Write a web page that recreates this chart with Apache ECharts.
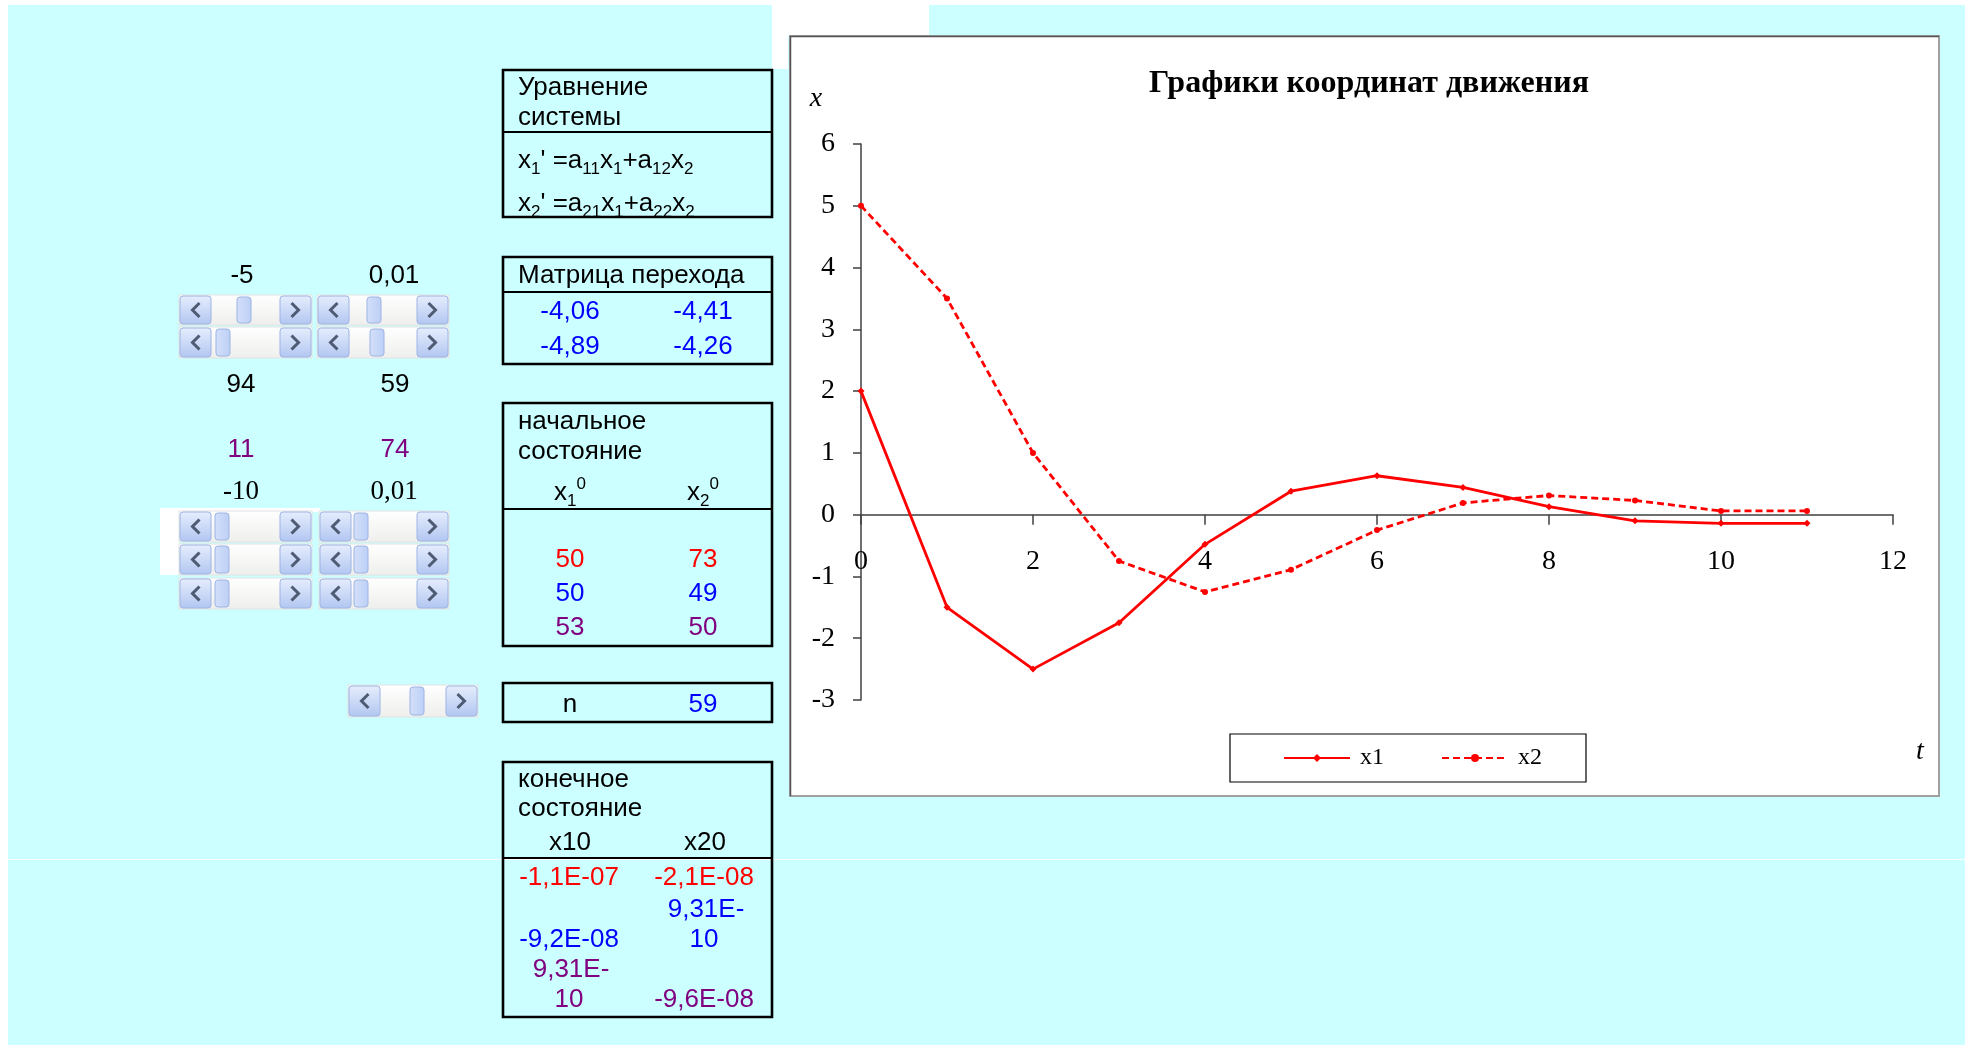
<!DOCTYPE html>
<html>
<head>
<meta charset="utf-8">
<title>Графики координат движения</title>
<script src="https://cdn.jsdelivr.net/npm/echarts@6/dist/echarts.min.js"></script>
<style>
  html, body { margin: 0; padding: 0; background: #ffffff; }
  #main { width: 1968px; height: 1049px; }
</style>
</head>
<body>
<div id="main"></div>
<script>
// ---- chart data: time steps and the two coordinates ----
const timeSteps = [0, 1, 2, 3, 4, 5, 6, 7, 8, 9, 10, 11];
const x1Values = [2, -1.5, -2.5, -1.75, -0.48, 0.38, 0.63, 0.44, 0.13, -0.1, -0.14, -0.14];
const x2Values = [5, 3.5, 1, -0.75, -1.25, -0.89, -0.25, 0.19, 0.31, 0.23, 0.06, 0.06];
const seriesNames = ['x1', 'x2'];

// ---- axis ranges ----
const tAxisRange = { min: 0, max: 12, interval: 2 };
const xAxisRange = { min: -3, max: 6, interval: 1 };

// ---- side panel values ----
const sliderLabelsTop = ['-5', '0,01'];
const sliderLabelsMid = ['94', '59'];
const sliderLabelsPurple = ['11', '74'];
const sliderLabelsLow = ['-10', '0,01'];
const transitionMatrix = [['-4,06', '-4,41'], ['-4,89', '-4,26']];
const initialStates = [['50', '73'], ['50', '49'], ['53', '50']];
const stepCount = '59';
const finalStates = [['-1,1E-07', '-2,1E-08'], ['-9,2E-08', '9,31E-10'], ['9,31E-10', '-9,6E-08']];
const stateColors = ['#ff0000', '#0000ff', '#800080'];

const SANS = '"Liberation Sans", Arial, sans-serif';
const SERIF = '"Liberation Serif", "Times New Roman", serif';
const CYAN = '#ccffff';

const G = [];

function rect(x, y, w, h, style, z, r) {
  G.push({ type: 'rect', silent: true, z: z, shape: { x: x, y: y, width: w, height: h, r: r || 0 }, style: style });
}
function seg(x1, y1, x2, y2, stroke, lw, z) {
  G.push({ type: 'line', silent: true, z: z, shape: { x1: x1, y1: y1, x2: x2, y2: y2 }, style: { stroke: stroke, lineWidth: lw } });
}
function txt(s, x, y, o) {
  o = o || {};
  const align = o.align || 'center';
  G.push({
    type: 'text', silent: true, z: o.z || 10, x: x, y: y,
    style: {
      text: s, fill: o.color || '#000', fontSize: o.size || 26, fontFamily: o.family || SANS,
      fontStyle: o.fontStyle || 'normal', fontWeight: o.weight || 'normal',
      align: align, textAlign: align, verticalAlign: 'middle', textVerticalAlign: 'middle',
      rich: o.rich
    }
  });
}

// text width helper used for cell wrapping
const measureCtx = document.createElement('canvas').getContext('2d');
measureCtx.font = '26px "Liberation Sans", Arial, sans-serif';
const CELL_TEXT_MAX = 102;

// ---- page background (spreadsheet fill) ----
rect(8, 5, 1957, 1040, { fill: CYAN }, -100);
rect(772, 0, 157, 36, { fill: '#ffffff' }, -99);
rect(772, 36, 16, 33, { fill: '#ffffff' }, -99);
seg(8, 859.5, 1965, 859.5, '#ffffff', 1, -98);
rect(160, 508, 160, 4, { fill: '#ffffff' }, -97);
rect(160, 508, 19, 67, { fill: '#ffffff' }, -97);

// ---- chart frame ----
rect(790, 36, 1149, 760, { fill: '#ffffff', stroke: '#a0a0a0', lineWidth: 2 }, -50);
seg(790, 36.5, 1939, 36.5, '#555555', 1.5, -49);
seg(790.5, 36, 790.5, 796, '#555555', 1.5, -49);

// ---- tables ----
const TX = 503, TW = 269, COL1 = 570, COL2 = 703;
function table(y, h, divider) {
  rect(TX, y, TW, h, { fill: 'none', stroke: '#000', lineWidth: 2.6 }, 5);
  if (divider) seg(TX, divider, TX + TW, divider, '#000', 2, 5);
}
const eqRich = {
  n: { fontSize: 26, fontFamily: SANS, lineHeight: 34, verticalAlign: 'middle' },
  s: { fontSize: 17, fontFamily: SANS, lineHeight: 20, verticalAlign: 'bottom' },
  p: { fontSize: 17, fontFamily: SANS, lineHeight: 14, verticalAlign: 'top' }
};

table(70, 147, 132);
txt('Уравнение', 518, 88, { align: 'left' });
txt('системы', 518, 118, { align: 'left' });
txt("{n|x}{s|1}{n|' =a}{s|11}{n|x}{s|1}{n|+a}{s|12}{n|x}{s|2}", 518, 161, { align: 'left', rich: eqRich });
txt("{n|x}{s|2}{n|' =a}{s|21}{n|x}{s|1}{n|+a}{s|22}{n|x}{s|2}", 518, 204, { align: 'left', rich: eqRich });

table(257, 107, 292);
txt('Матрица перехода', 518, 276, { align: 'left' });
transitionMatrix.forEach(function (row, i) {
  txt(row[0], COL1, 312 + i * 35, { color: '#0000ff' });
  txt(row[1], COL2, 312 + i * 35, { color: '#0000ff' });
});

table(403, 243, 509);
txt('начальное', 518, 422, { align: 'left' });
txt('состояние', 518, 452, { align: 'left' });
txt('{n|x}{s|1}{p|0}', COL1, 493, { rich: eqRich });
txt('{n|x}{s|2}{p|0}', COL2, 493, { rich: eqRich });
initialStates.forEach(function (row, i) {
  txt(row[0], COL1, 560 + i * 34, { color: stateColors[i] });
  txt(row[1], COL2, 560 + i * 34, { color: stateColors[i] });
});

table(683, 39, null);
txt('n', COL1, 705);
txt(stepCount, COL2, 705, { color: '#0000ff' });

table(762, 255, 858);
txt('конечное', 518, 780, { align: 'left' });
txt('состояние', 518, 809, { align: 'left' });
txt('x10', COL1, 843);
txt('x20', COL2 + 2, 843);
const finalRowBottoms = [878, 940, 1000];
finalStates.forEach(function (row, i) {
  row.forEach(function (val, j) {
    const cx = j === 0 ? COL1 - 1 : COL2 + 1;
    const yb = finalRowBottoms[i];
    if (measureCtx.measureText(val).width > CELL_TEXT_MAX) {
      // too wide for the cell: wrap after the exponent sign
      const cut = val.indexOf('E-') + 2;
      txt(val.slice(0, cut), cx + 2, yb - 30, { color: stateColors[i] });
      txt(val.slice(cut), cx, yb, { color: stateColors[i] });
    } else {
      txt(val, cx, yb, { color: stateColors[i] });
    }
  });
});

// ---- scroll bar controls ----
const btnGrad = { type: 'linear', x: 0, y: 0, x2: 0, y2: 1, colorStops: [{ offset: 0, color: '#e6eefd' }, { offset: 1, color: '#b2c6f1' }] };
const trackGrad = { type: 'linear', x: 0, y: 0, x2: 0, y2: 1, colorStops: [{ offset: 0, color: '#ffffff' }, { offset: 1, color: '#eeeeec' }] };
const thumbGrad = { type: 'linear', x: 0, y: 0, x2: 1, y2: 0, colorStops: [{ offset: 0, color: '#d4e0fa' }, { offset: 1, color: '#bccff5' }] };
function chevron(cx, cy, dir) {
  const d = dir === 'left' ? 1 : -1;
  G.push({ type: 'polyline', silent: true, z: 8, shape: { points: [[cx + 4 * d, cy - 7], [cx - 3 * d, cy], [cx + 4 * d, cy + 7]] }, style: { stroke: '#4f5b73', lineWidth: 3, fill: 'none' } });
}
function scrollbar(x, y, w, h, thumbX) {
  const bw = 31;
  rect(x, y, w, h, { fill: trackGrad, stroke: '#e2e2e2', lineWidth: 1 }, 6);
  rect(x + 1, y + 1, bw, h - 2, { fill: btnGrad, stroke: '#9db4e4', lineWidth: 1 }, 7, 3);
  rect(x + w - bw - 1, y + 1, bw, h - 2, { fill: btnGrad, stroke: '#9db4e4', lineWidth: 1 }, 7, 3);
  chevron(x + 1 + bw / 2, y + h / 2, 'left');
  chevron(x + w - bw - 1 + bw / 2, y + h / 2, 'right');
  rect(thumbX, y + 2, 14, h - 4, { fill: thumbGrad, stroke: '#9db4e4', lineWidth: 1 }, 7, 3);
}

txt(sliderLabelsTop[0], 242, 276);
txt(sliderLabelsTop[1], 394, 276);
scrollbar(179, 295, 133, 30, 237);
scrollbar(317, 295, 132, 30, 367);
scrollbar(179, 327, 133, 31, 216);
scrollbar(317, 327, 132, 31, 370);
txt(sliderLabelsMid[0], 241, 385);
txt(sliderLabelsMid[1], 395, 385);
txt(sliderLabelsPurple[0], 241, 450, { color: '#800080' });
txt(sliderLabelsPurple[1], 395, 450, { color: '#800080' });
txt(sliderLabelsLow[0], 241, 492, { family: SERIF, size: 27 });
txt(sliderLabelsLow[1], 394, 492, { family: SERIF, size: 27 });
[511, 544, 578].forEach(function (y) {
  scrollbar(179, y, 133, 31, 215);
  scrollbar(319, y, 130, 31, 354);
});
scrollbar(348, 685, 130, 32, 410);

// ---- axis letters ----
txt('x', 816, 99, { family: SERIF, fontStyle: 'italic', size: 28 });
txt('t', 1920, 752, { family: SERIF, fontStyle: 'italic', size: 28 });

const GRID = { left: 861, top: 144, width: 1032, height: 556 };
// the t-axis sits on x = 0; its labels hang just under that line
const zeroOffset = GRID.height * xAxisRange.max / (xAxisRange.max - xAxisRange.min);
const tLabelGap = 33;

const axisColor = '#404040';
const chart = echarts.init(document.getElementById('main'), null, { renderer: 'canvas' });
chart.setOption({
  animation: false,
  backgroundColor: '#ffffff',
  title: {
    text: 'Графики координат движения',
    left: 1369, top: 68, textAlign: 'center', padding: 0,
    textStyle: { fontFamily: SERIF, fontWeight: 'bold', fontSize: 32, color: '#000' }
  },
  grid: { left: GRID.left, top: GRID.top, width: GRID.width, height: GRID.height, containLabel: false, outerBoundsMode: 'none' },
  legend: {
    data: seriesNames,
    left: 1230, top: 734, orient: 'horizontal',
    backgroundColor: '#ffffff', borderColor: '#000', borderWidth: 1.2, borderRadius: 0,
    padding: [12, 44, 12, 53],
    itemWidth: 66, itemHeight: 10, itemGap: 57,
    textStyle: { fontFamily: SERIF, fontSize: 24, color: '#000', padding: [0, 0, 0, 5] }
  },
  xAxis: {
    type: 'value', min: tAxisRange.min, max: tAxisRange.max, interval: tAxisRange.interval,
    axisLine: { show: true, onZero: true, lineStyle: { color: axisColor, width: 1.5 } },
    axisTick: { show: true, inside: false, length: 10, lineStyle: { color: axisColor, width: 1.5 } },
    axisLabel: { margin: tLabelGap - (GRID.height - zeroOffset), fontFamily: SERIF, fontSize: 28, color: '#000' },
    splitLine: { show: false }
  },
  yAxis: {
    type: 'value', min: xAxisRange.min, max: xAxisRange.max, interval: xAxisRange.interval,
    axisLine: { show: true, onZero: false, lineStyle: { color: axisColor, width: 1.5 } },
    axisTick: { show: true, inside: false, length: 8, lineStyle: { color: axisColor, width: 1.5 } },
    axisLabel: { margin: 26, fontFamily: SERIF, fontSize: 28, color: '#000' },
    splitLine: { show: false }
  },
  series: [
    {
      name: seriesNames[0], type: 'line',
      data: timeSteps.map(function (t, i) { return [t, x1Values[i]]; }),
      symbol: 'diamond', symbolSize: 7, showSymbol: true,
      lineStyle: { color: '#ff0000', width: 2.8 },
      itemStyle: { color: '#ff0000' }
    },
    {
      name: seriesNames[1], type: 'line',
      data: timeSteps.map(function (t, i) { return [t, x2Values[i]]; }),
      symbol: 'circle', symbolSize: 6, showSymbol: true,
      lineStyle: { color: '#ff0000', width: 2.8, type: [7, 4] },
      itemStyle: { color: '#ff0000' }
    }
  ],
  graphic: { elements: G }
});
</script>
</body>
</html>
